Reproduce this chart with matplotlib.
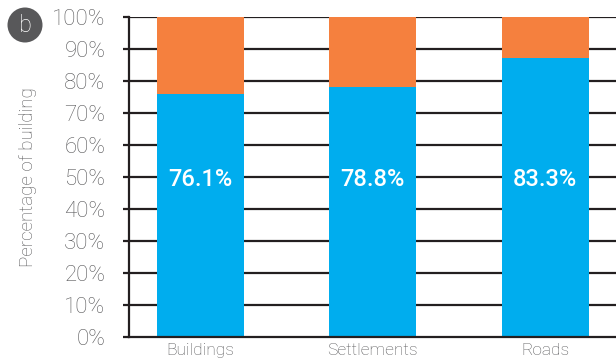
import matplotlib
matplotlib.use("Agg")
import matplotlib.pyplot as plt
from matplotlib.patches import Ellipse

categories = ["Buildings", "Settlements", "Roads"]
blue_share = [75.8, 78.1, 87.2]
orange_share = [100 - v for v in blue_share]
bar_labels = ["76.1%", "78.8%", "83.3%"]
yticks = list(range(0, 101, 10))

BLUE = "#00adee"
ORANGE = "#f5803e"
LINE = "#231f20"
GREY = "#58585a"

plt.rcParams["font.family"] = ["Roboto", "DejaVu Sans"]

fig = plt.figure(figsize=(6.16, 3.62), dpi=100)
ax = fig.add_axes([0.2094, 0.0704, 0.7906, 0.8826])

x = list(range(len(categories)))
for y in yticks[1:]:
    ax.axhline(y, color=LINE, lw=1.6, zorder=1)
ax.bar(x, blue_share, width=0.505, color=BLUE, zorder=2)
ax.bar(x, orange_share, width=0.505, bottom=blue_share, color=ORANGE, zorder=2)

for xi, lab in zip(x, bar_labels):
    ax.text(xi, 49.3, lab, ha="center", va="center", color="white",
            fontsize=17, fontweight="medium", zorder=3)

ax.set_xlim(-0.415, 2.41)
ax.set_ylim(0, 100)
ax.set_yticks(yticks)
ax.set_yticklabels([f"{t}%" for t in yticks], fontsize=16, color=GREY,
                   fontweight="light")
ax.set_xticks(x)
ax.set_xticklabels(categories, fontsize=12.5, color=GREY, fontweight="light")
ax.tick_params(axis="y", length=4, width=1.6, color=LINE, pad=13)
ax.tick_params(axis="x", length=0, pad=5)
for s in ["top", "right"]:
    ax.spines[s].set_visible(False)
for s in ["left", "bottom"]:
    ax.spines[s].set_color(LINE)
    ax.spines[s].set_linewidth(1.6)
    ax.spines[s].set_zorder(4)

ax.set_ylabel("Percentage of building", fontsize=13.5, color=GREY,
              fontweight="light", labelpad=11)

cx, cy = 25 / 616, 1 - 25 / 362
fig.patches.append(Ellipse((cx, cy), 35 / 616, 35 / 362, transform=fig.transFigure,
                           facecolor="#58585a", edgecolor="none"))
fig.text(cx, cy, "b", ha="center", va="center", color="white",
         fontsize=17, fontweight="light")

fig.savefig("out.png", dpi=100)
